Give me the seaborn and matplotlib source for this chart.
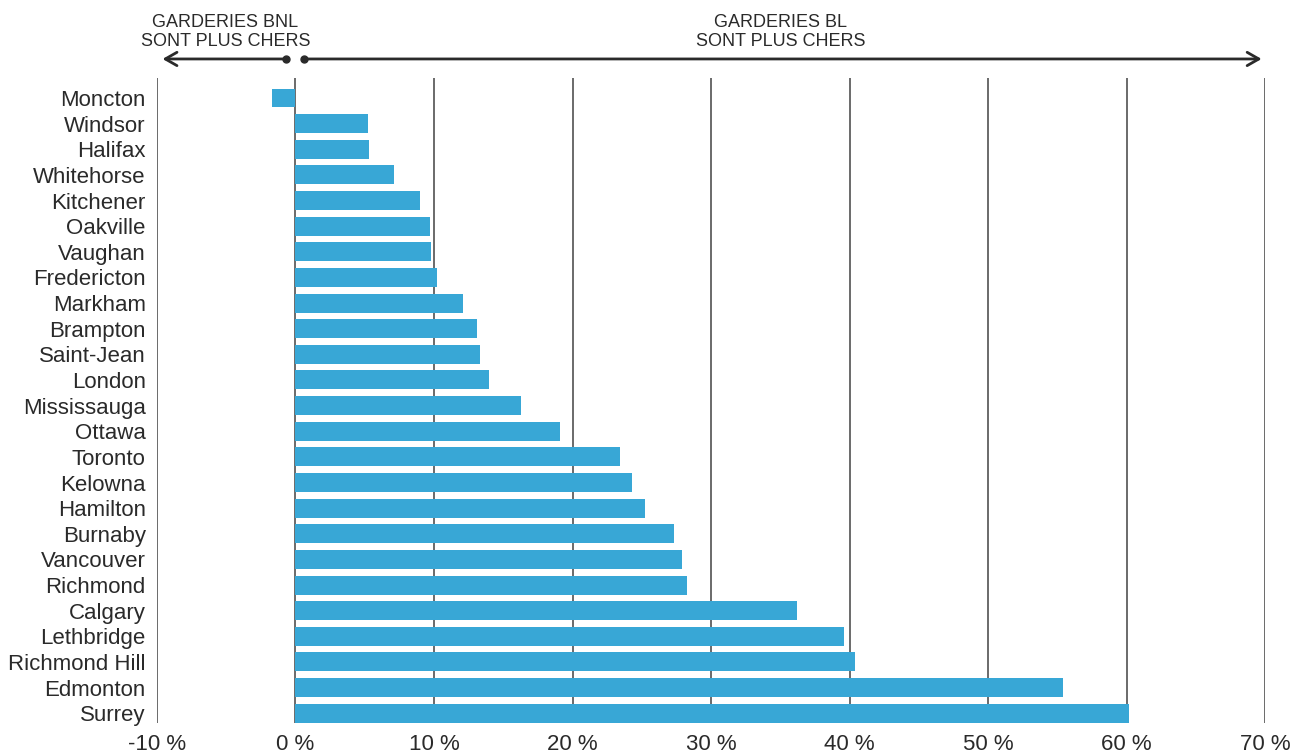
import matplotlib
matplotlib.use("Agg")
import matplotlib.pyplot as plt
import seaborn as sns
import pandas as pd

cities = ["Moncton", "Windsor", "Halifax", "Whitehorse", "Kitchener", "Oakville",
          "Vaughan", "Fredericton", "Markham", "Brampton", "Saint-Jean", "London",
          "Mississauga", "Ottawa", "Toronto", "Kelowna", "Hamilton", "Burnaby",
          "Vancouver", "Richmond", "Calgary", "Lethbridge", "Richmond Hill",
          "Edmonton", "Surrey"]
gap_pct = [-1.7, 5.2, 5.3, 7.1, 9.0, 9.7, 9.8, 10.2, 12.1, 13.1, 13.3, 14.0,
           16.3, 19.1, 23.4, 24.3, 25.2, 27.3, 27.9, 28.3, 36.2, 39.6, 40.4,
           55.4, 60.2]
x_ticks = [-10, 0, 10, 20, 30, 40, 50, 60, 70]
x_tick_labels = ["-10 %", "0 %", "10 %", "20 %", "30 %", "40 %", "50 %", "60 %", "70 %"]
left_note = "GARDERIES BNL\nSONT PLUS CHERS"
right_note = "GARDERIES BL\nSONT PLUS CHERS"

sns.set_theme(style="white")
plt.rcParams["font.family"] = ["Liberation Sans", "DejaVu Sans"]

BAR = "#38a7d6"
INK = "#2a2a2a"
GRID = "#6a6a6a"

df = pd.DataFrame({"ville": cities, "ecart": gap_pct})

fig = plt.figure(figsize=(12.93, 7.55), dpi=100)
ax = fig.add_axes([0.1214, 0.0424, 0.857, 0.8543])

sns.barplot(data=df, x="ecart", y="ville", orient="h", color=BAR,
            saturation=1, width=0.74, linewidth=0, ax=ax, zorder=3)

ax.set_xlim(-10, 70)
ax.set_ylim(len(cities) - 1 + 0.38, -0.78)
ax.set_xticks(x_ticks)
ax.set_xticklabels(x_tick_labels)
ax.xaxis.grid(True, color=GRID, linewidth=1.4)
ax.set_axisbelow(True)
for s in ax.spines.values():
    s.set_visible(False)
ax.set_xlabel("")
ax.set_ylabel("")
ax.tick_params(axis="y", length=0, pad=8, labelsize=16, labelcolor=INK)
ax.tick_params(axis="x", length=0, pad=8, labelsize=16, labelcolor=INK)

tr = ax.get_xaxis_transform()
arrow_y = 1.0295
text_y = 1.072
ax.annotate("", xy=(-9.6, arrow_y), xytext=(-0.65, arrow_y), xycoords=tr, textcoords=tr,
            arrowprops=dict(arrowstyle="->,head_length=0.7,head_width=0.4",
                            color=INK, lw=2, shrinkA=0, shrinkB=0), annotation_clip=False)
ax.annotate("", xy=(69.75, arrow_y), xytext=(0.58, arrow_y), xycoords=tr, textcoords=tr,
            arrowprops=dict(arrowstyle="->,head_length=0.7,head_width=0.4",
                            color=INK, lw=2, shrinkA=0, shrinkB=0), annotation_clip=False)
ax.plot([-0.65, 0.58], [arrow_y, arrow_y], "o", ms=5, color=INK, transform=tr, clip_on=False)

ax.text(-5.05, text_y, left_note, transform=tr, ha="center", va="center",
        fontsize=13, color=INK, linespacing=1.15)
ax.text(35.0, text_y, right_note, transform=tr, ha="center", va="center",
        fontsize=13, color=INK, linespacing=1.15)

fig.savefig("out.png", dpi=100, facecolor="white")
